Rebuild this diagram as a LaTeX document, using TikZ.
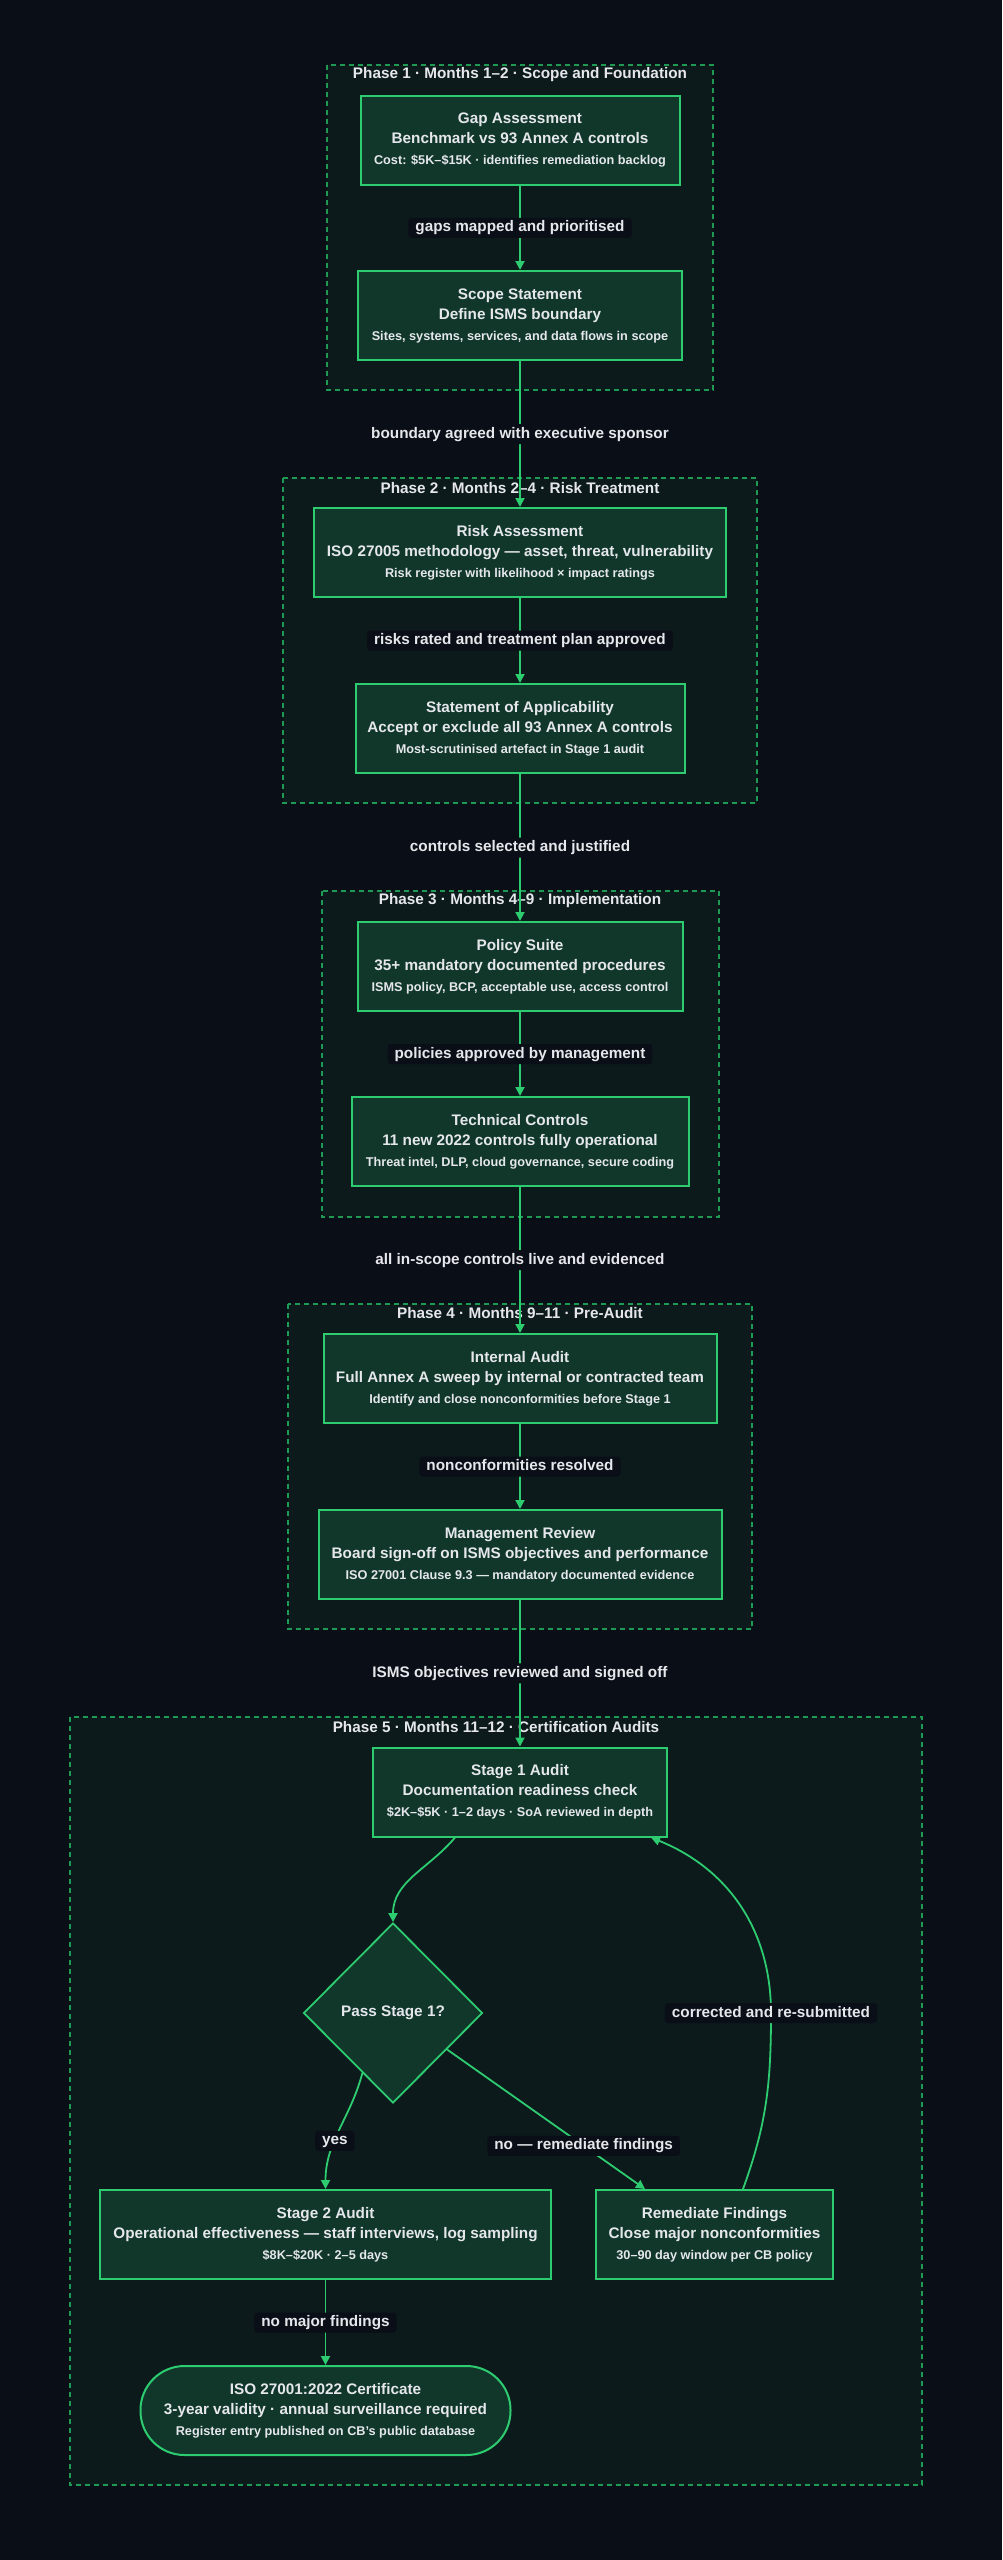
\documentclass[tikz,border=0pt]{standalone}
\usepackage{fontspec}
\setmainfont{Liberation Sans}
\usetikzlibrary{arrows.meta,shapes.geometric}
\definecolor{canvas}{HTML}{0A0E17}
\definecolor{phasefill}{HTML}{0C1A1C}
\definecolor{phaseline}{HTML}{1E9A55}
\definecolor{cardfill}{HTML}{10372A}
\definecolor{edge}{HTML}{2ECC71}
\definecolor{ink}{HTML}{E5E7EB}
\newcommand{\card}[3]{#1\\#2\\[1pt]{\fontsize{12.7}{16}\selectfont #3}}

\begin{document}
\begin{tikzpicture}[
  x=1pt,y=1pt,
  font=\fontsize{15.3}{20}\selectfont\bfseries,
  text=ink,
  phase/.style={draw=phaseline,dash pattern=on 5pt off 4pt,line width=1.3pt,fill=phasefill},
  ptitle/.style={inner sep=0pt},
  cardbox/.style={draw=edge,line width=2pt,fill=cardfill,align=center,minimum height=89pt,inner sep=2pt},
  decision/.style={diamond,draw=edge,line width=1.8pt,fill=cardfill,minimum width=179pt,minimum height=180pt,inner sep=0pt},
  terminal/.style={cardbox,rounded corners=44pt},
  lbl/.style={fill=canvas,rounded corners=3pt,inner xsep=7pt,inner ysep=3pt,text height=11pt,text depth=3pt},
  flow/.style={draw=edge,line width=1.8pt,-{Triangle[length=9pt,width=9pt]}}]
\fill[canvas] (0,0) rectangle (1002,-2560);
\useasboundingbox (0,0) rectangle (1002,-2560);

\draw[phase] (327,-65) rectangle (713,-390);
\draw[phase] (283,-478) rectangle (757,-803);
\draw[phase] (322,-891) rectangle (719,-1217);
\draw[phase] (288,-1304) rectangle (752,-1629);
\draw[phase] (70,-1717) rectangle (922,-2485);
\node[ptitle] (t1) at (520,-75) {Phase 1 · Months 1–2 · Scope and Foundation};
\node[ptitle] (t2) at (520,-488) {Phase 2 · Months 2–4 · Risk Treatment};
\node[ptitle] (t3) at (520,-901) {Phase 3 · Months 4–9 · Implementation};
\node[ptitle] (t4) at (520,-1313) {Phase 4 · Months 9–11 · Pre-Audit};
\node[ptitle] (t5) at (496,-1727) {Phase 5 · Months 11–12 · Certification Audits};

\node[cardbox,minimum width=319pt] (gap) at (520,-140) {\card{Gap Assessment}{Benchmark vs 93 Annex A controls}{Cost: \$5K–\$15K · identifies remediation backlog}};
\node[cardbox,minimum width=324pt] (scope) at (520,-315.5) {\card{Scope Statement}{Define ISMS boundary}{Sites, systems, services, and data flows in scope}};
\node[cardbox,minimum width=412pt] (risk) at (520,-552.5) {\card{Risk Assessment}{ISO 27005 methodology — asset, threat, vulnerability}{Risk register with likelihood × impact ratings}};
\node[cardbox,minimum width=329pt] (soa) at (520,-728.5) {\card{Statement of Applicability}{Accept or exclude all 93 Annex A controls}{Most-scrutinised artefact in Stage 1 audit}};
\node[cardbox,minimum width=325pt] (policy) at (520,-966.5) {\card{Policy Suite}{35+ mandatory documented procedures}{ISMS policy, BCP, acceptable use, access control}};
\node[cardbox,minimum width=337pt] (tech) at (520,-1141.5) {\card{Technical Controls}{11 new 2022 controls fully operational}{Threat intel, DLP, cloud governance, secure coding}};
\node[cardbox,minimum width=393pt] (internal) at (520,-1378.5) {\card{Internal Audit}{Full Annex A sweep by internal or contracted team}{Identify and close nonconformities before Stage 1}};
\node[cardbox,minimum width=403pt] (mgmt) at (520,-1554.5) {\card{Management Review}{Board sign-off on ISMS objectives and performance}{ISO 27001 Clause 9.3 — mandatory documented evidence}};
\node[cardbox,minimum width=294pt] (stage1) at (520,-1792) {\card{Stage 1 Audit}{Documentation readiness check}{\$2K–\$5K · 1–2 days · SoA reviewed in depth}};
\node[decision] (pass) at (393,-2013) {Pass Stage 1?};
\node[cardbox,minimum width=451pt] (stage2) at (325.5,-2234.5) {\card{Stage 2 Audit}{Operational effectiveness — staff interviews, log sampling}{\$8K–\$20K · 2–5 days}};
\node[cardbox,minimum width=237pt] (remed) at (714.5,-2234.5) {\card{Remediate Findings}{Close major nonconformities}{30–90 day window per CB policy}};
\node[terminal,minimum width=370pt] (cert) at (325.5,-2410.5) {\card{ISO 27001:2022 Certificate}{3-year validity · annual surveillance required}{Register entry published on CB's public database}};
\coordinate (bend) at (771,-2013);

\draw[flow] (gap) -- node[lbl]{gaps mapped and prioritised} (scope);
\draw[flow] (scope) -- node[lbl]{boundary agreed with executive sponsor} (risk);
\draw[flow] (risk) -- node[lbl]{risks rated and treatment plan approved} (soa);
\draw[flow] (soa) -- node[lbl]{controls selected and justified} (policy);
\draw[flow] (policy) -- node[lbl]{policies approved by management} (tech);
\draw[flow] (tech) -- node[lbl]{all in-scope controls live and evidenced} (internal);
\draw[flow] (internal) -- node[lbl]{nonconformities resolved} (mgmt);
\draw[flow] (mgmt) -- node[lbl]{ISMS objectives reviewed and signed off} (stage1);
\draw[flow] ([xshift=83pt]stage1.south west) to[out=-130,in=90] (pass.north);
\draw[flow] (pass.-117) to[out=-105,in=90] node[lbl,pos=0.6]{yes} (stage2.north);
\draw[flow] (pass.-34) -- node[lbl,pos=0.69]{no — remediate findings} ([xshift=50pt]remed.north west);
\draw[flow] ([xshift=28.5pt]remed.north) to[out=70,in=-90] (bend) node[lbl]{corrected and re-submitted} to[out=90,in=-22] ([xshift=-17pt]stage1.south east);
\draw[flow] (stage2) -- node[lbl]{no major findings} (cert);
\end{tikzpicture}
\end{document}
